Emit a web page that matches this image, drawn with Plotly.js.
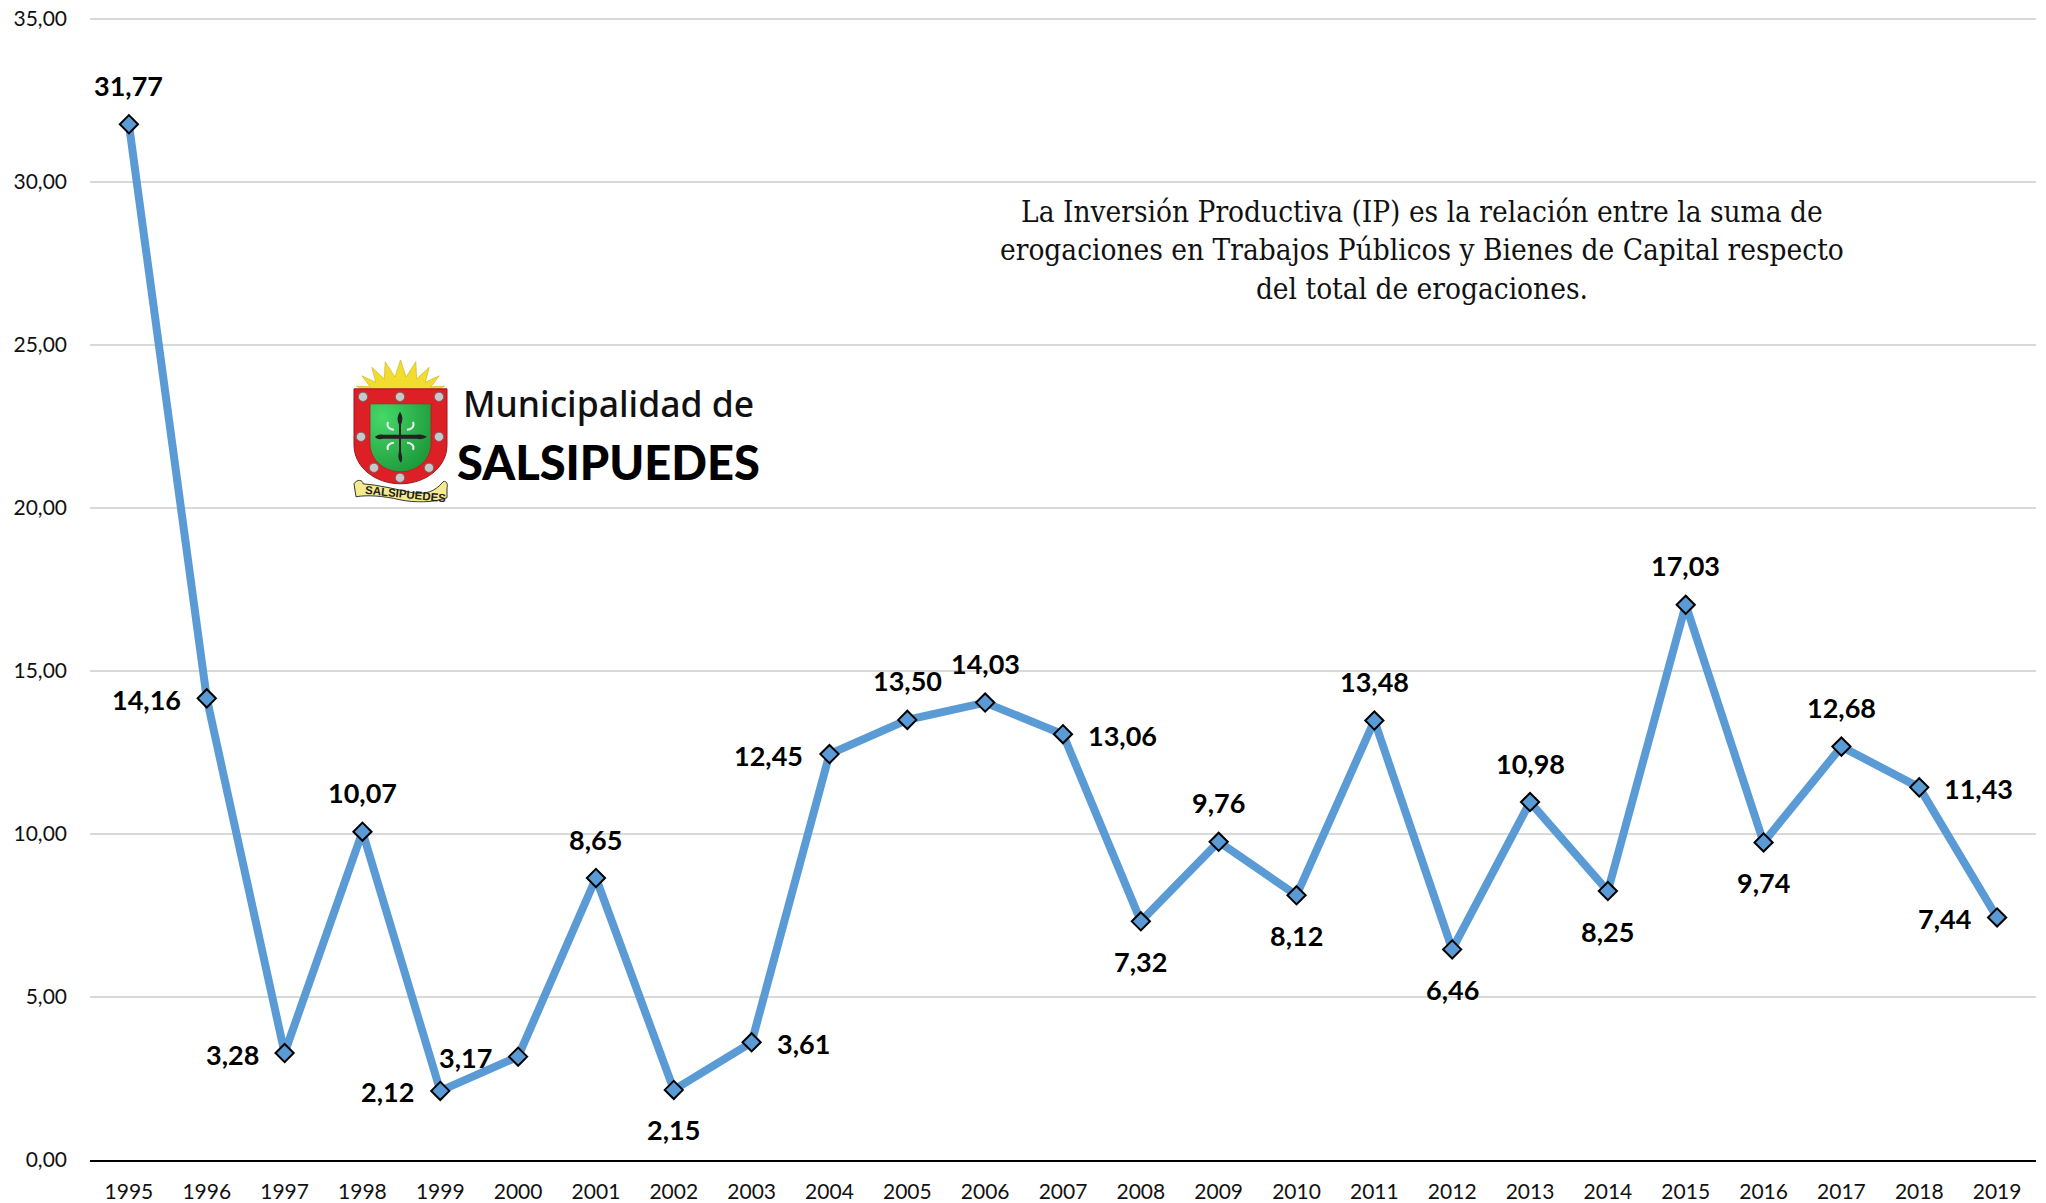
<!DOCTYPE html>
<html>
<head>
<meta charset="utf-8">
<script src="https://cdn.plot.ly/plotly-3.0.1.min.js"></script>
<style>html,body{margin:0;padding:0;background:#fff}#chart{width:2046px;height:1203px}</style>
</head>
<body>
<div id="chart"></div>
<script>
const years = ['1995','1996','1997','1998','1999','2000','2001','2002','2003','2004','2005','2006','2007','2008','2009','2010','2011','2012','2013','2014','2015','2016','2017','2018','2019'];
const values = [31.77,14.16,3.28,10.07,2.12,3.17,8.65,2.15,3.61,12.45,13.50,14.03,13.06,7.32,9.76,8.12,13.48,6.46,10.98,8.25,17.03,9.74,12.68,11.43,7.44];
const labelSides = ['a','l','l','a','l','l','a','b','r','l','a','a','r','b','a','b','a','b','a','b','a','b','a','r','l'];
const noteLines = ['La Inversión Productiva (IP) es la relación entre la suma de','erogaciones en Trabajos Públicos y Bienes de Capital respecto','del total de erogaciones.'];

const W = 2046, H = 1203;
const m = {l:90, r:10, t:17, b:42.5};
const pw = W - m.l - m.r, ph = H - m.t - m.b;
const px = x => (x - m.l) / pw;
const py = y => 1 - (y - m.t) / ph;

const side = {
  a:{xanchor:'center', yanchor:'middle', xshift:0, yshift:39},
  b:{xanchor:'center', yanchor:'middle', xshift:0, yshift:-40},
  l:{xanchor:'right', yanchor:'middle', xshift:-24, yshift:-1},
  r:{xanchor:'left', yanchor:'middle', xshift:23, yshift:-1}
};
const fmt = v => v.toFixed(2).replace('.', ',');

const valueLabels = values.map((v,i) => Object.assign({
  x: i, y: v, xref:'x', yref:'y', text: fmt(v), showarrow:false,
  font:{family:'Lato, sans-serif', size:27, color:'#000', weight:700}
}, side[labelSides[i]]));

const studs = [[10,37],[47,37],[86,37],[8,77],[86,77],[21,108],[76,108],[47,118]]
  .map(p => `<circle cx="${p[0]}" cy="${p[1]}" r="4.6" fill="#c8c8c8" stroke="#666" stroke-width="0.8"/>`).join('');
let sunPts = [];
for (let k = 0; k <= 18; k++) {
  const a = Math.PI * k / 18, r = k % 2 ? 32 : 15;
  sunPts.push((47.5 - (r + 30) * 0.72 * Math.cos(a)).toFixed(1) + ',' + (32 - r * Math.sin(a)).toFixed(1));
}
const crest = `<svg xmlns="http://www.w3.org/2000/svg" width="95" height="143" viewBox="0 0 95 143">
<defs><radialGradient id="g" cx="0.2" cy="0.2" r="0.9"><stop offset="0" stop-color="#45d868"/><stop offset="1" stop-color="#1f9a3c"/></radialGradient></defs>
<polygon fill="#f2dc2e" stroke="#c9ad20" stroke-width="0.6" points="${sunPts.join(' ')}"/>
<path fill="#dd1f26" stroke="#a01418" stroke-width="1" d="M1,29 H94 V85 C94,108 72,124 47.500,124 C23,124 1,108 1,85 Z"/>
<path fill="url(#g)" stroke="#b81a1e" stroke-width="0.8" d="M17,44 H78 V84 C78,100 64,112 47.500,112 C31,112 17,100 17,84 Z"/>
${studs}
<path fill="#222" d="M47,52 C51,58 49,62 48,65 V75 H64 C67,74 71,75 74,77 C71,79 67,80 64,79 H48 V92 C49,96 50,100 48,103 C45,100 45,96 46,92 V79 H30 C26,80 23,79 22,77 C24,75 27,74 30,75 H46 V65 C45,62 43,58 47,52 Z"/>
<path fill="none" stroke="#eee" stroke-width="2" d="M35,62 C33,68 38,70 41,70 M60,62 C62,68 57,70 54,70 M35,90 C33,85 38,83 41,83 M60,90 C62,85 57,83 54,83"/>
<path fill="#f4eb8e" stroke="#333" stroke-width="1" d="M1,124 C4,119 10,120 10,124 C25,125 45,130 60,133 C72,135 82,132 90,122 C94,120 95,126 94,128 L94,138 C80,143 62,143 47,140 C30,136 14,135 3,137 Z"/>
</svg>`;
const crestUri = 'data:image/svg+xml;charset=utf-8,' + encodeURIComponent(crest);

const annotations = valueLabels.concat([
  {xref:'paper', yref:'paper', x:px(1422), y:py(250.5), xanchor:'center', yanchor:'middle', align:'center', showarrow:false,
   text: noteLines.join('<br>'), font:{family:'"DejaVu Serif Condensed", "DejaVu Serif", serif', size:29.5, color:'#111'}},
  {xref:'paper', yref:'paper', x:px(608), y:py(403), xanchor:'center', yanchor:'middle', showarrow:false,
   text:'Municipalidad de', font:{family:'"Noto Sans", sans-serif', size:35.5, color:'#111', weight:500}},
  {xref:'paper', yref:'paper', x:px(608), y:py(462), xanchor:'center', yanchor:'middle', showarrow:false,
   text:'SALSIPUEDES', font:{family:'Lato, sans-serif', size:47, color:'#000', weight:900}},
  {xref:'paper', yref:'paper', x:px(405), y:py(494), xanchor:'center', yanchor:'middle', showarrow:false, textangle:6,
   text:'SALSIPUEDES', font:{family:'"Liberation Sans", sans-serif', size:11.5, color:'#222', weight:700}}
]);

Plotly.newPlot('chart', [{
  type:'scatter', mode:'lines+markers', x:years, y:values, hoverinfo:'skip',
  line:{color:'#5B9BD5', width:8, shape:'linear'},
  marker:{symbol:'diamond', size:14, color:'#5B9BD5', line:{color:'#000', width:2}},
  cliponaxis:false
}], {
  width:W, height:H, autosize:false, showlegend:false,
  paper_bgcolor:'#fff', plot_bgcolor:'#fff',
  separators:',.',
  margin:m,
  font:{family:'Lato, sans-serif', color:'#111'},
  xaxis:{type:'category', range:[-0.5,24.5], showgrid:false, zeroline:false, showline:true, linecolor:'#000', linewidth:2,
         ticks:'', ticklabelstandoff:12, tickfont:{family:'Lato, sans-serif', size:21, color:'#111'}, tickangle:0, automargin:false},
  yaxis:{range:[0,35.06], tick0:0, dtick:5, tickformat:'.2f', showgrid:true, gridcolor:'#d9d9d9', gridwidth:2, zeroline:false, showline:false,
         ticks:'', ticklabelstandoff:22, tickfont:{family:'Lato, sans-serif', size:21, color:'#111'}, automargin:false},
  annotations: annotations,
  images:[{source:crestUri, xref:'paper', yref:'paper', x:px(353), y:py(360), sizex:95/pw, sizey:143/ph, sizing:'stretch', xanchor:'left', yanchor:'top', layer:'above'}]
}, {staticPlot:true, displayModeBar:false});
</script>
</body>
</html>
